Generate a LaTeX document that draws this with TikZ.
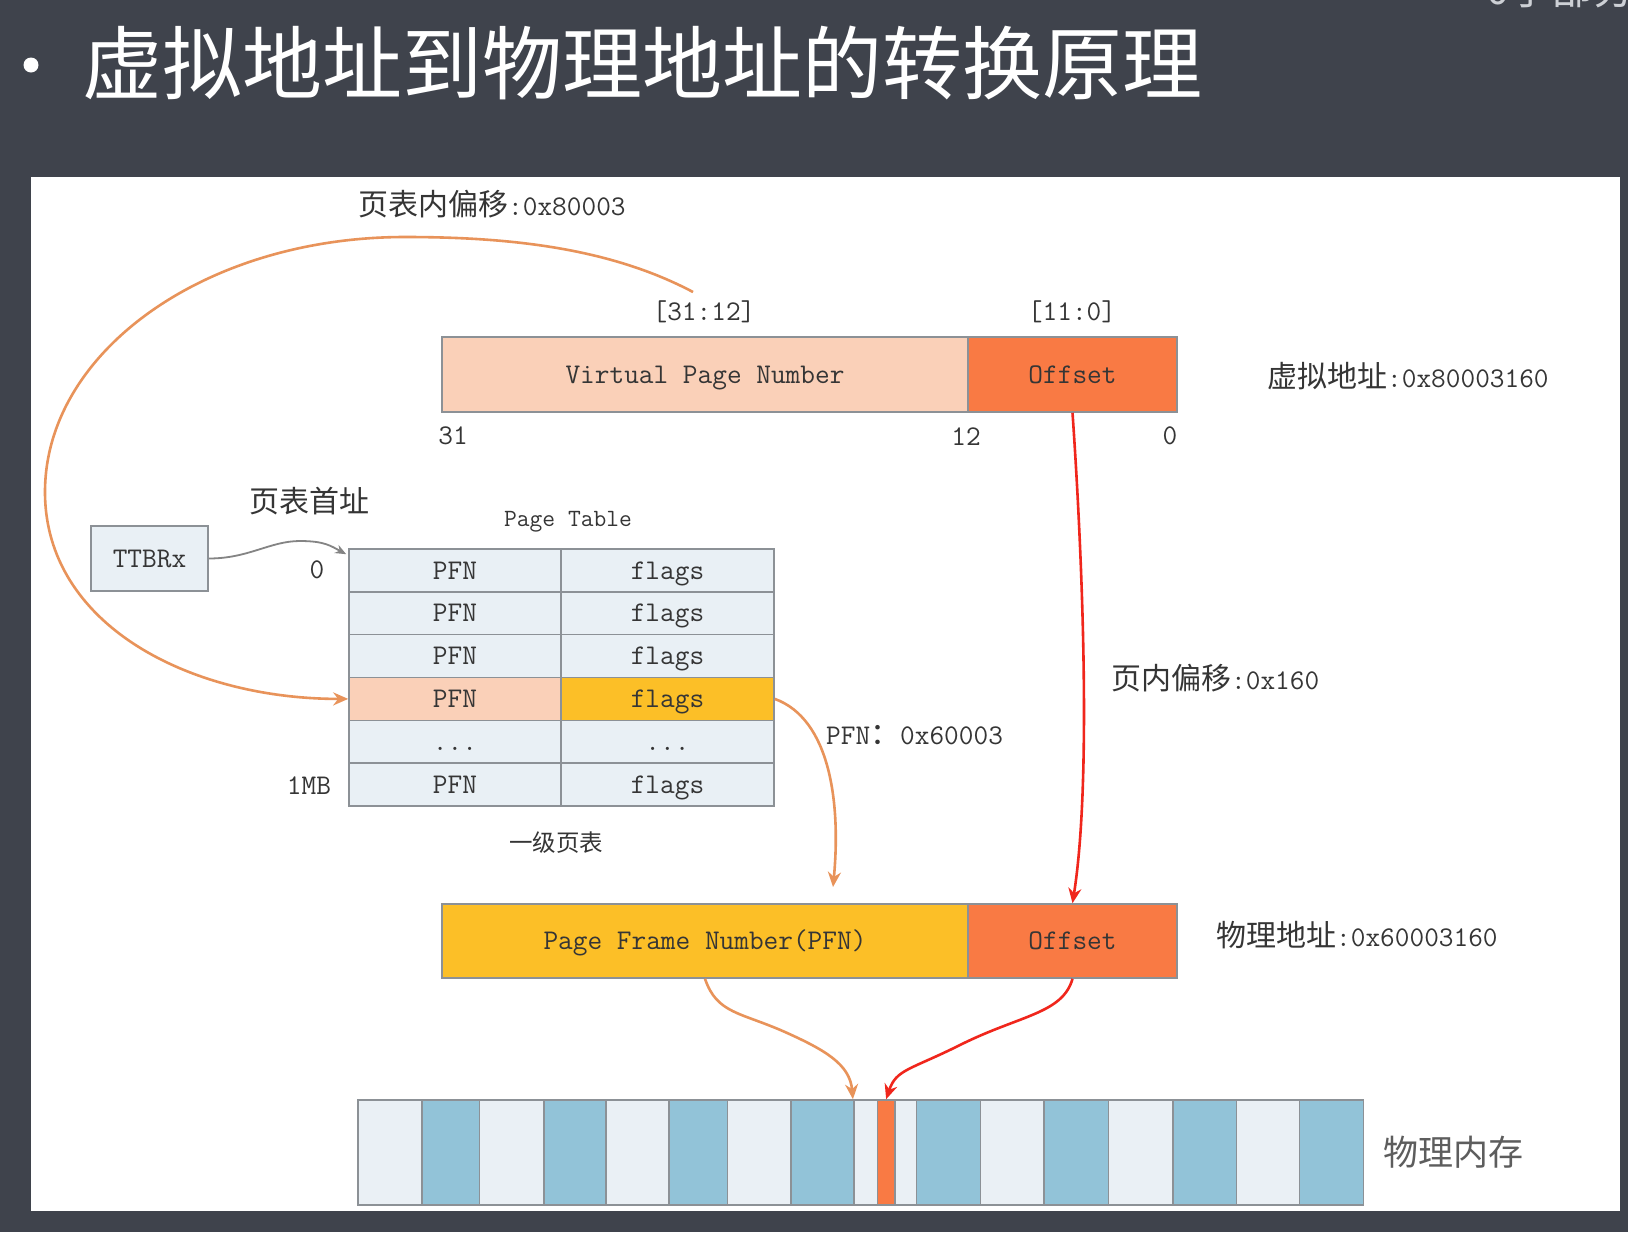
\documentclass[tikz,border=0pt]{standalone}
\usepackage{fontspec}
\newfontfamily\cjk{Noto Sans CJK SC}
\usetikzlibrary{arrows.meta,fit}

\definecolor{slidebg}{HTML}{3F434C}
\definecolor{edge}{HTML}{8C9196}
\definecolor{ink}{HTML}{353535}
\definecolor{cellbg}{HTML}{E9F0F5}
\definecolor{vpnfill}{HTML}{FAD0B8}
\definecolor{offfill}{HTML}{F97A44}
\definecolor{pfnfill}{HTML}{FCBF27}
\definecolor{memlight}{HTML}{EAF0F5}
\definecolor{memblue}{HTML}{92C3D8}
\definecolor{arroworange}{HTML}{E8935A}
\definecolor{arrowred}{HTML}{F0261C}
\definecolor{arrowgray}{HTML}{848484}
\definecolor{cornertext}{HTML}{CDD0D5}

\newcommand\monofont{\fontsize{28.5}{32}\selectfont\ttfamily}
\newcommand\zhfont{\fontsize{30}{32}\selectfont\cjk}
\newcommand\celldots{...}

\begin{document}
\begin{tikzpicture}[x=1pt,y=-1pt,
  box/.style={draw=edge, line width=1.6pt, inner sep=0pt, font=\monofont, text=ink,
    text height=17.4pt, text depth=0pt},
  memcell/.style={draw=edge, line width=1.6pt, inner sep=0pt},
  lbl/.style={inner sep=0pt, text=ink, font=\monofont},
  orangearrow/.style={draw=arroworange, line width=2.6pt, -{Stealth[length=15pt,width=13pt]}},
  redarrow/.style={draw=arrowred, line width=2.6pt, -{Stealth[length=15pt,width=13pt]}},
  grayarrow/.style={draw=arrowgray, line width=1.8pt, -{Stealth[length=11pt,width=9pt]}}]

\useasboundingbox (0,0) rectangle (1628,1232);
\clip (0,0) rectangle (1628,1232);

% slide background and white drawing panel
\fill[slidebg] (0,0) rectangle (1628,1232);
\fill[white] (31,177) rectangle (1620,1211);

% slide heading
\node[circle, fill=white, minimum size=15pt, inner sep=0pt] (bullet) at (31,65) {};
\node[anchor=base west, inner sep=0pt, text=white, font=\fontsize{80}{90}\selectfont\cjk] (title) at (82,93) {虚拟地址到物理地址的转换原理};
\node[anchor=base west, inner sep=0pt, text=cornertext, font=\fontsize{42}{44}\selectfont\cjk] (corner) at (1486,4) {0子部分};

% virtual address
\node[box, fill=vpnfill, minimum width=526pt, minimum height=75pt] (vpn) at (705,374.5) {Virtual Page Number};
\node[box, fill=offfill, minimum width=209pt, minimum height=75pt] (voff) at (1072.5,374.5) {Offset};
\node[lbl] (vbits) at (704,312) {[31:12]};
\node[lbl] (obits) at (1072,312) {[11:0]};
\node[lbl] (b31) at (453,436) {31};
\node[lbl] (b12) at (966,437) {12};
\node[lbl] (b0) at (1170,436) {0};
\node[lbl, anchor=west] (vaddr) at (1267,376) {{\zhfont 虚拟地址}:0x80003160};
\node[lbl, anchor=west] (ptoff) at (358,204) {{\zhfont 页表内偏移}:0x80003};

% translation table base register
\node[box, fill=cellbg, minimum width=117pt, minimum height=65pt] (ttbr) at (149.5,558.5) {TTBRx};
\node[lbl, anchor=west, font=\zhfont] (ptbase) at (249,501) {页表首址};

% first level page table
\node[lbl, font=\fontsize{24.8}{28}\selectfont\ttfamily] (pthead) at (568,522) {Page Table};
\foreach \i/\l/\r/\fl/\fr in {1/PFN/flags/cellbg/cellbg, 2/PFN/flags/cellbg/cellbg,
    3/PFN/flags/cellbg/cellbg, 4/PFN/flags/vpnfill/pfnfill,
    5/\celldots/\celldots/cellbg/cellbg, 6/PFN/flags/cellbg/cellbg} {
  \pgfmathsetmacro\yc{549+(\i-0.5)*42.83}
  \node[box, fill=\fl, minimum width=212pt, minimum height=42.83pt] (p\i) at (455,\yc) {\l};
  \node[box, fill=\fr, minimum width=213pt, minimum height=42.83pt] (f\i) at (667.5,\yc) {\r};
}
\node[lbl] (row0) at (317,570) {0};
\node[lbl] (row1mb) at (309,786) {1MB};
\node[lbl, font=\fontsize{23.5}{26}\selectfont\cjk] (ptname) at (556,843) {一级页表};

% physical address
\node[box, fill=pfnfill, minimum width=526pt, minimum height=74pt] (pfnbar) at (705,941) {Page Frame Number(PFN)};
\node[box, fill=offfill, minimum width=209pt, minimum height=74pt] (poff) at (1072.5,941) {Offset};
\node[lbl, anchor=west] (paddr) at (1216,935) {{\zhfont 物理地址}:0x60003160};
\node[lbl, anchor=west] (pfnval) at (826,735) {PFN{\zhfont ：}0x60003};
\node[lbl, anchor=west] (inoff) at (1111,678) {{\zhfont 页内偏移}:0x160};

% physical memory
\foreach \a/\b/\c [count=\i] in {358/421.7/memlight, 421.7/479.5/memblue,
    479.5/543.8/memlight, 543.8/606/memblue, 606/669/memlight, 669/727.3/memblue,
    727.3/791/memlight, 791/853.7/memblue, 853.7/916.3/memlight, 916.3/980.3/memblue,
    980.3/1043.8/memlight, 1043.8/1108.6/memblue, 1108.6/1172.9/memlight,
    1172.9/1236.4/memblue, 1236.4/1299.5/memlight, 1299.5/1363.4/memblue} {
  \node[memcell, fill=\c, fit={(\a,1100) (\b,1205)}] (m\i) {};
}
\node[memcell, fill=offfill, fit={(877.5,1100) (894.8,1205)}] (slice) {};
\node[lbl, anchor=west, font=\fontsize{35}{38}\selectfont\cjk, text=ink!80] (memname) at (1383,1152) {物理内存};

% connectors
\coordinate (vtail) at (693,292);
\coordinate (ptcorner) at ([shift={(-2,6)}]p1.north west);
\coordinate (pfnin) at (833,887);

\draw[orangearrow] (vtail) .. controls (610,248) and (510,237) .. (405,237)
  .. controls (205,237) and (45,352) .. (45,492)
  .. controls (45,625) and (190,699) .. (p4.west);
\draw[grayarrow] (ttbr.east) .. controls +(40,0) and +(-30,0) .. (300,541)
  .. controls +(25,0) and +(-15,-8) .. (ptcorner);
\draw[orangearrow] (f4.east) .. controls +(55,20) and +(8,-85) .. (pfnin);
\draw[redarrow] (voff.south) .. controls (1082,550) and (1092,780) .. (poff.north);
\draw[orangearrow] (pfnbar.south) .. controls +(12,35) and +(-45,-20) .. (785,1032)
  .. controls +(40,18) and +(-3,-35) .. (m9.north west);
\draw[redarrow] (poff.south) .. controls +(-10,35) and +(60,-30) .. (960,1045)
  .. controls +(-50,25) and +(10,-30) .. (slice.north);

\end{tikzpicture}
\end{document}
